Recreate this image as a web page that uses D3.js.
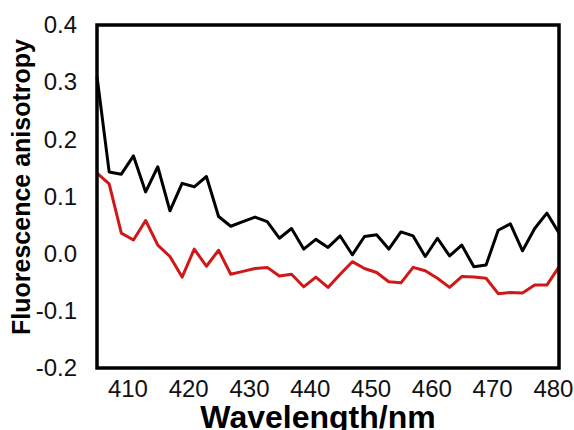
<!DOCTYPE html>
<html>
<head>
<meta charset="utf-8">
<script src="https://cdn.jsdelivr.net/npm/d3@7"></script>
<style>
  body { margin: 0; background: #fff; }
  text { font-family: "Liberation Sans", Arial, sans-serif; }
</style>
</head>
<body>
<div id="canvas"></div>
<script>
// data
const wavelengths = d3.range(405, 482, 2);
const blackValues = [0.31, 0.143, 0.139, 0.171, 0.108, 0.152, 0.075, 0.123, 0.117, 0.135,
  0.065, 0.048, 0.056, 0.064, 0.056, 0.027, 0.044, 0.008, 0.025, 0.011,
  0.031, -0.002, 0.030, 0.033, 0.008, 0.038, 0.031, -0.005, 0.027, -0.004,
  0.015, -0.023, -0.020, 0.041, 0.052, 0.005, 0.044, 0.071, 0.036];
const redValues = [0.141, 0.122, 0.036, 0.024, 0.058, 0.015, -0.005, -0.041, 0.008, -0.022,
  0.006, -0.036, -0.031, -0.026, -0.024, -0.039, -0.036, -0.058, -0.041, -0.059,
  -0.036, -0.014, -0.026, -0.033, -0.049, -0.051, -0.024, -0.030, -0.043, -0.059,
  -0.040, -0.041, -0.043, -0.070, -0.068, -0.069, -0.055, -0.055, -0.023];
const xTicks = [410, 420, 430, 440, 450, 460, 470, 480];
const yTicks = [-0.2, -0.1, 0, 0.1, 0.2, 0.3, 0.4];

// constants
const width = 574;
const height = 430;
const plotLeft = 97, plotRight = 559, plotTop = 25, plotBottom = 368;

const svg = d3.select('#canvas')
    .append('svg').attr('width', width).attr('height', height);

const x = d3.scaleLinear().domain([405, 481]).range([plotLeft, plotRight]);
const y = d3.scaleLinear().domain([-0.2, 0.4]).range([plotBottom, plotTop]);

// axes without tick marks, labels only (plain hyphen for negatives, like Excel)
const xAxis = d3.axisBottom(x).tickValues(xTicks).tickSize(0).tickPadding(12);
const yAxis = d3.axisLeft(y).tickValues(yTicks).tickSize(0).tickPadding(20)
    .tickFormat(d => d.toFixed(1));

svg.append('g')
    .attr('transform', `translate(0,${plotBottom})`)
    .call(xAxis)
    .call(g => g.select('.domain').remove())
    .selectAll('text')
    .attr('font-size', 24).attr('fill', '#111')
    .attr('font-family', '"Liberation Sans", Arial, sans-serif');

svg.append('g')
    .attr('transform', `translate(${plotLeft},0)`)
    .call(yAxis)
    .call(g => g.select('.domain').remove())
    .selectAll('text')
    .attr('font-size', 24).attr('fill', '#111')
    .attr('font-family', '"Liberation Sans", Arial, sans-serif');

// lines
const line = d3.line().x((d, i) => x(wavelengths[i])).y(d => y(d));

svg.append('path')
    .datum(blackValues)
    .attr('d', line)
    .attr('fill', 'none')
    .attr('stroke', '#000')
    .attr('stroke-width', 3)
    .attr('stroke-linejoin', 'round');

svg.append('path')
    .datum(redValues)
    .attr('d', line)
    .attr('fill', 'none')
    .attr('stroke', '#d01818')
    .attr('stroke-width', 3)
    .attr('stroke-linejoin', 'round');

// plot frame
svg.append('rect')
    .attr('x', plotLeft).attr('y', plotTop)
    .attr('width', plotRight - plotLeft).attr('height', plotBottom - plotTop)
    .attr('fill', 'none')
    .attr('stroke', '#000')
    .attr('stroke-width', 3.5);

// axis titles
svg.append('text')
    .attr('x', 318).attr('y', 428)
    .attr('text-anchor', 'middle')
    .attr('font-size', 32).attr('font-weight', 'bold')
    .text('Wavelength/nm');

svg.append('text')
    .attr('transform', 'translate(30,187) rotate(-90)')
    .attr('text-anchor', 'middle')
    .attr('font-size', 25).attr('font-weight', 'bold')
    .text('Fluorescence anisotropy');
</script>
</body>
</html>
